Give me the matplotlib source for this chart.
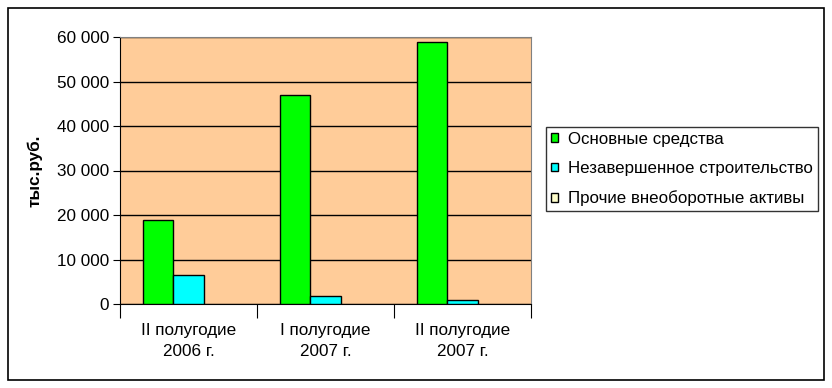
import numpy as np
import matplotlib.pyplot as plt
from matplotlib.patches import Rectangle
from matplotlib.ticker import FuncFormatter, FixedLocator

plt.rcParams['font.family'] = ['Liberation Sans', 'DejaVu Sans']

periods = ['II полугодие\n2006 г.', 'I полугодие\n2007 г.', 'II полугодие\n2007 г.']
series = ['Основные средства', 'Незавершенное строительство', 'Прочие внеоборотные активы']
osnovnye = [18800, 47000, 58900]
nezavershennoe = [6500, 1700, 900]
prochie = [0, 0, 0]
colors = ['#00FF00', '#00FFFF', '#FFFFCC']

fs = 12.3
fig = plt.figure(figsize=(8.32, 3.88), dpi=100)
fig.patches.append(Rectangle((8 / 832, 8 / 388), 816 / 832, 372 / 388, transform=fig.transFigure,
                             fill=False, edgecolor='black', linewidth=1.2))
ax = fig.add_axes([120 / 832, 1 - 304 / 388, 411 / 832, 267 / 388])
ax.set_facecolor('#FFCC99')

ind = np.arange(len(periods))
w = 1 / 4.5
for i, (vals, name) in enumerate(zip([osnovnye, nezavershennoe, prochie], series)):
    lw = [1 if v > 0 else 0 for v in vals]
    ax.bar(ind + (i - 1) * w, vals, w, color=colors[i], edgecolor='black', linewidth=lw,
           label=name, zorder=3)

ax.set_xlim(-0.5, 2.5)
ax.set_ylim(0, 60000)
ax.set_yticks(np.arange(0, 60001, 10000))
ax.yaxis.set_major_formatter(FuncFormatter(lambda v, p: f'{int(v):,}'.replace(',', ' ')))
ax.grid(axis='y', color='black', linewidth=1, zorder=1)
ax.set_axisbelow(True)

ax.xaxis.set_major_locator(FixedLocator([-0.5, 0.5, 1.5, 2.5]))
ax.xaxis.set_major_formatter(FuncFormatter(lambda v, p: ''))
ax.xaxis.set_minor_locator(FixedLocator(ind))
ax.set_xticklabels(periods, minor=True)
ax.tick_params(axis='x', which='minor', length=0, pad=14, labelsize=fs)
ax.tick_params(axis='x', which='major', length=10, direction='out', color='black')
ax.tick_params(axis='y', length=5, direction='out', labelsize=fs, pad=3)
for lbl in ax.get_xticklabels(minor=True):
    lbl.set_linespacing(1.5)

for s in ['top', 'right']:
    ax.spines[s].set_color('#808080')
ax.spines['left'].set_color('black')
ax.spines['bottom'].set_color('black')

ax.set_ylabel('тыс.руб.', fontsize=fs, fontweight='bold', labelpad=10)

leg = ax.legend(loc='upper left', bbox_to_anchor=(546 / 832, 1 - 127 / 388),
                bbox_transform=fig.transFigure, fontsize=12.2, frameon=True, fancybox=False,
                edgecolor='black', handlelength=0.42, handleheight=0.42, handletextpad=0.6,
                labelspacing=0.85, borderpad=0.28, borderaxespad=0)
leg.get_frame().set_linewidth(1)
for p in leg.get_patches():
    p.set_linewidth(1)
    p.set_edgecolor('black')

fig.savefig('out.png', dpi=100)
